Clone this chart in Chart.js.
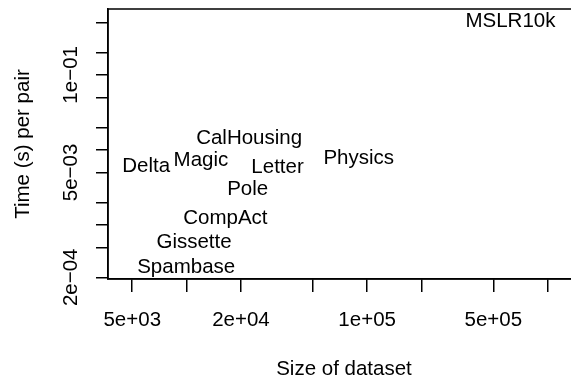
<!DOCTYPE html>
<html>
<head>
<meta charset="utf-8">
<script src="https://cdn.jsdelivr.net/npm/chart.js@4"></script>
<style>
    html, body { margin: 0; padding: 0; background: #fff; overflow: hidden; }
    #wrap { width: 581px; height: 377px; }
</style>
</head>
<body>
<div id="wrap"><canvas id="timeChart" width="581" height="377"></canvas></div>
<script>
// datasets (label centre = data point)
const datasetNames = ['Delta', 'Magic', 'CalHousing', 'Letter', 'Pole', 'CompAct', 'Gissette', 'Spambase', 'Physics', 'MSLR10k'];
const datasetSizes = [5970, 12000, 22200, 31900, 21800, 16400, 11000, 9950, 89800, 622000];
const timePerPair = [5.97e-3, 7.33e-3, 1.44e-2, 5.79e-3, 3.01e-3, 1.22e-3, 5.82e-4, 2.70e-4, 7.79e-3, 0.518];

// axis ticks
const xTickValues = [5e3, 1e4, 2e4, 5e4, 1e5, 2e5, 5e5, 1e6];
const xTickLabels = { 5e3: '5e+03', 2e4: '2e+04', 1e5: '1e+05', 5e5: '5e+05' };
const yTickValues = [2e-4, 5e-4, 1e-3, 2e-3, 5e-3, 1e-2, 2e-2, 5e-2, 1e-1, 2e-1, 5e-1];
const yTickLabels = { 2e-4: '2e\u221204', 5e-3: '5e\u221203', 1e-1: '1e\u221201' };

const FONT = 'Liberation Sans, Arial, Helvetica, sans-serif';
const FS = 20.5;

const labelPlugin = {
    id: 'pointLabels',
    afterDatasetsDraw(chart) {
        const ctx = chart.ctx;
        const meta = chart.getDatasetMeta(0);
        ctx.save();
        ctx.fillStyle = '#000';
        ctx.font = FS + 'px ' + FONT;
        ctx.textAlign = 'center';
        ctx.textBaseline = 'middle';
        meta.data.forEach((pt, i) => {
            ctx.fillText(datasetNames[i], pt.x, pt.y);
        });
        ctx.restore();
    },
    afterDraw(chart) {
        const ctx = chart.ctx;
        const a = chart.chartArea;
        ctx.save();
        // plot box
        ctx.strokeStyle = '#000';
        ctx.lineWidth = 1.5;
        ctx.strokeRect(a.left, a.top, a.right - a.left, a.bottom - a.top);
        // axis titles
        ctx.fillStyle = '#000';
        ctx.font = FS + 'px ' + FONT;
        ctx.textAlign = 'center';
        ctx.textBaseline = 'alphabetic';
        ctx.fillText('Size of dataset', (a.left + a.right) / 2, 375);
        ctx.translate(28.5, (a.top + a.bottom) / 2);
        ctx.rotate(-Math.PI / 2);
        ctx.fillText('Time (s) per pair', 0, 0);
        ctx.restore();
    }
};

new Chart(document.getElementById('timeChart'), {
    type: 'scatter',
    data: {
        datasets: [{
            data: datasetSizes.map((s, i) => ({ x: s, y: timePerPair[i] })),
            pointRadius: 0,
            pointHoverRadius: 0,
            showLine: false
        }]
    },
    options: {
        responsive: false,
        animation: false,
        layout: { padding: { top: 9, right: 1, bottom: 0, left: 0 } },
        plugins: {
            legend: { display: false },
            tooltip: { enabled: false }
        },
        scales: {
            x: {
                type: 'logarithmic',
                min: 3670,
                max: 1.51e6,
                afterBuildTicks: (scale) => { scale.ticks = xTickValues.map(v => ({ value: v })); },
                afterFit: (scale) => { scale.height = 98; },
                ticks: {
                    autoSkip: false,
                    maxRotation: 0,
                    padding: 16,
                    color: '#000',
                    font: { family: FONT, size: FS },
                    callback: (v) => xTickLabels[v] || ''
                },
                grid: { drawOnChartArea: false, color: '#000', lineWidth: 1.5, tickLength: 13 },
                border: { display: true, color: '#000', width: 1.5 }
            },
            y: {
                type: 'logarithmic',
                min: 1.9e-4,
                max: 0.755,
                afterBuildTicks: (scale) => { scale.ticks = yTickValues.map(v => ({ value: v })); },
                afterFit: (scale) => { scale.width = 108; },
                ticks: {
                    autoSkip: false,
                    minRotation: 90,
                    maxRotation: 90,
                    crossAlign: 'center',
                    padding: -4.5,
                    color: '#000',
                    font: { family: FONT, size: FS },
                    callback: (v) => yTickLabels[v] || ''
                },
                grid: { drawOnChartArea: false, color: '#000', lineWidth: 1.5, tickLength: 12 },
                border: { display: true, color: '#000', width: 1.5 }
            }
        }
    },
    plugins: [labelPlugin]
});
</script>
</body>
</html>
